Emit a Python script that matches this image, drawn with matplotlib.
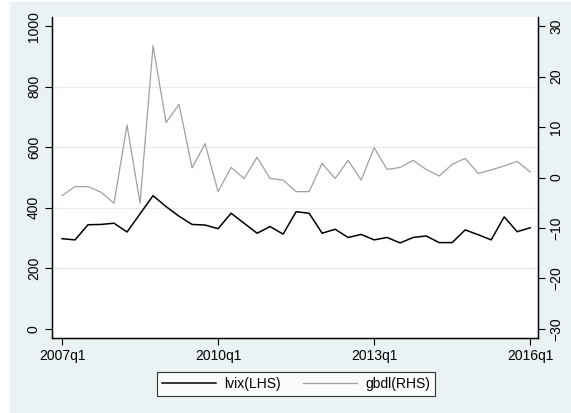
"""
Stata-style dual-axis line chart: lvix (left axis) vs gbdl (right axis), 2007q1-2016q1.
"""

import matplotlib

matplotlib.use("Agg")
import matplotlib.pyplot as plt
from matplotlib.patches import Rectangle

# quarterly observations, 2007q1 .. 2016q1 (37 quarters)
quarters = list(range(37))
xtick_pos = [0, 12, 24, 36]
xtick_labels = ["2007q1", "2010q1", "2013q1", "2016q1"]

lvix = [298, 294, 344, 345, 349, 320, 380, 440, 404, 372,
        345, 343, 331, 382, 349, 316, 338, 313, 387, 382,
        316, 329, 302, 312, 294, 302, 284, 302, 307, 285,
        285, 327, 311, 294, 370, 321, 334]

gbdl = [-3.6, -1.8, -1.8, -2.9, -5.1, 10.4, -5.1, 26.1, 10.9, 14.5,
        1.9, 6.7, -2.8, 2.0, -0.2, 4.0, -0.2, -0.5, -2.8, -2.8,
        2.8, -0.2, 3.4, -0.5, 5.9, 1.6, 2.0, 3.4, 1.6, 0.3,
        2.6, 3.8, 0.8, 1.5, 2.3, 3.2, 1.1]

left_ticks = [0, 200, 400, 600, 800, 1000]
right_ticks = [-30, -20, -10, 0, 10, 20, 30]

BG = "#EAF2F3"
GRID = "#E6EEF0"
GRAY = "#A0A0A0"


def main():
    plt.rcParams["font.family"] = ["Liberation Sans", "DejaVu Sans"]
    plt.rcParams["font.size"] = 10

    fig = plt.figure(figsize=(5.71, 4.13), dpi=100, facecolor="white")
    # light outer panel (Stata s2color look), leaving a thin white strip top/left
    fig.patches.append(Rectangle((10 / 571, 0), 1, 411 / 413, transform=fig.transFigure,
                                 facecolor=BG, edgecolor="none", zorder=-10))

    ax = fig.add_axes([52 / 571, 75 / 413, 486 / 571, 321 / 413])
    ax.set_facecolor("white")
    ax2 = ax.twinx()

    l1, = ax.plot(quarters, lvix, color="black", linewidth=1.1, label="lvix(LHS)")
    l2, = ax2.plot(quarters, gbdl, color=GRAY, linewidth=0.9, label="gbdl(RHS)")

    ax.set_xlim(-0.77, 36.6)
    ax.set_ylim(-30, 1030)
    ax2.set_ylim(-31.8, 31.8)

    ax.set_xticks(xtick_pos)
    ax.set_xticklabels(xtick_labels)
    ax.set_yticks(left_ticks)
    ax.set_yticklabels([str(v) for v in left_ticks], rotation=90, va="center")
    ax2.set_yticks(right_ticks)
    ax2.set_yticklabels([str(v).replace("-", "\u2212") for v in right_ticks],
                        rotation=90, va="center")

    ax.grid(True, axis="y", color=GRID, linewidth=1.0)
    ygl = ax.get_ygridlines()
    ygl[0].set_visible(False)
    ygl[-1].set_visible(False)
    ax.set_axisbelow(True)

    for a in (ax, ax2):
        a.spines["top"].set_visible(False)
        for s in ("left", "right", "bottom"):
            a.spines[s].set_linewidth(0.9)
        a.tick_params(direction="out", length=5, width=0.8, pad=3, colors="black")

    leg = fig.legend(handles=[l1, l2], loc="center", bbox_to_anchor=(296 / 571, 29 / 413),
                     ncol=2, frameon=True, fancybox=False, handlelength=3.9,
                     handletextpad=0.6, columnspacing=1.6, borderpad=0.35, fontsize=10)
    leg.get_frame().set_edgecolor("black")
    leg.get_frame().set_linewidth(0.8)

    fig.savefig("out.png", dpi=100, facecolor=fig.get_facecolor())


if __name__ == "__main__":
    main()
